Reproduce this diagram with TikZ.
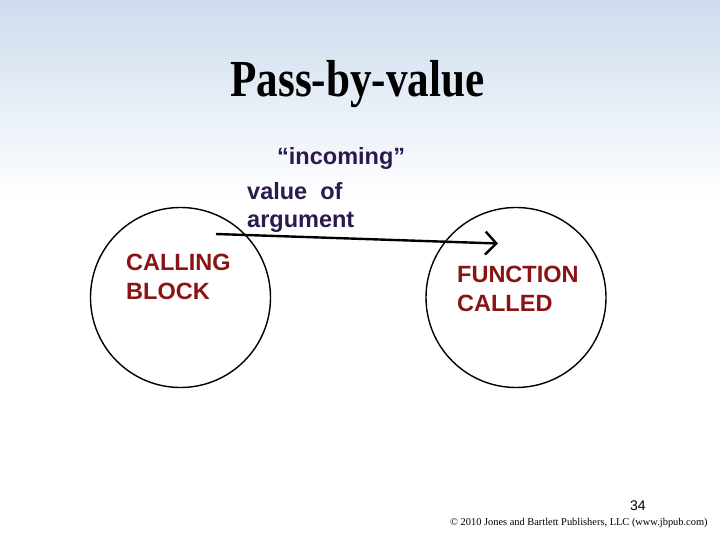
\documentclass[tikz,border=0pt]{standalone}
\usepackage{fontspec}
\setmainfont{Liberation Serif}
\newfontfamily\arialf{Liberation Sans}
\usetikzlibrary{arrows.meta,calc}
\definecolor{topblue}{RGB}{205,220,238}
\definecolor{lblpurple}{RGB}{44,26,78}
\definecolor{lblred}{RGB}{138,20,20}
\tikzset{
  blockcircle/.style={draw=black, line width=1.4pt, circle, minimum size=180pt, inner sep=0pt},
  lbl/.style={font=\arialf\bfseries\fontsize{23.5}{28}\selectfont, text=lblpurple, anchor=base west, inner sep=0pt},
  boxlbl/.style={font=\arialf\bfseries\fontsize{23.5}{29}\selectfont, text=lblred, align=left, anchor=north west, inner sep=0pt},
  flow/.style={line width=2.4pt, -{Straight Barb[length=11pt,width=23pt,line width=2.4pt]}},
}
\begin{document}
\begin{tikzpicture}[x=1pt,y=-1pt]
\useasboundingbox (0,0) rectangle (720,540);
\fill[white] (0,0) rectangle (720,540);
\shade[top color=topblue, bottom color=white] (0,0) rectangle (720,200);
% title
\node[font=\bfseries\fontsize{52}{60}\selectfont, anchor=base, inner sep=0pt] (title) at (357.5,96.5) {\scalebox{0.83}[1]{Pass-by-value}};
% circles
\node[blockcircle] (cb) at (180.5,297.5) {};
\node[blockcircle] (fc) at (516,297.5) {};
% labels
\node[lbl] (inc) at (277,165) {“incoming”};
\node[lbl] (valof) at (247,200) {value\ \ of};
\node[lbl] (arg) at (247,228) {argument};
\node[boxlbl] (cbl) at (126,254) {CALLING\\BLOCK};
\node[boxlbl] (fcl) at (457,266) {FUNCTION\\CALLED};
% arrow
\coordinate (s) at ($(cb.center)+(35.5,-63.5)$);
\coordinate (e) at ($(fc.center)+(-18,-54)$);
\draw[flow] (s) -- (e);
% footer
\node[font=\arialf\fontsize{14}{16}\selectfont, anchor=base west, inner sep=0pt] (pg) at (630,510) {34};
\node[font=\fontsize{10.4}{12}\selectfont, anchor=base west, inner sep=0pt] (copy) at (450,525) {© 2010 Jones and Bartlett Publishers, LLC (www.jbpub.com)};
\end{tikzpicture}
\end{document}
